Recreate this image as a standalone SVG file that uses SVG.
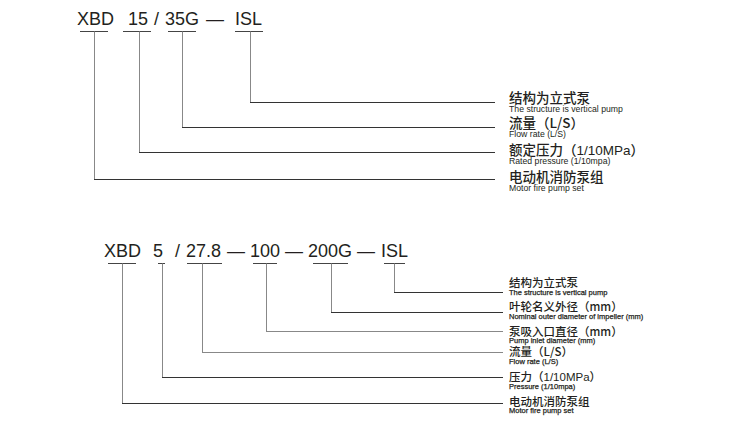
<svg xmlns="http://www.w3.org/2000/svg" width="749" height="425" viewBox="0 0 749 425">
<style>
.code{font-family:"Liberation Sans",Arial,sans-serif;font-size:18px;fill:#231f20}
.cn1{font-family:"Noto Sans CJK SC","Liberation Sans",sans-serif;font-size:13.5px;font-weight:500;fill:#231f20}
.en1{font-family:"Liberation Sans",Arial,sans-serif;font-size:8.7px;fill:#231f20}
.cn2{font-family:"Noto Sans CJK SC","Liberation Sans",sans-serif;font-size:11.5px;font-weight:500;fill:#231f20}
.en2{font-family:"Liberation Sans",Arial,sans-serif;font-size:7.5px;fill:#231f20;stroke:#231f20;stroke-width:0.25}
.lat{font-family:"Liberation Sans",Arial,sans-serif;font-weight:normal}
.bar{stroke:#444;stroke-width:1;fill:none}
.v{stroke:#888;stroke-width:1;fill:none}
.h{stroke:#333;stroke-width:1;fill:none}
.hg{stroke:#888;stroke-width:1.2;fill:none}
</style>
<rect width="749" height="425" fill="#fff"/>
<g id="code-top">
<text class="code" y="25"><tspan x="77">XBD</tspan><tspan x="128">15</tspan><tspan x="154">/</tspan><tspan x="165">35G</tspan><tspan x="206">—</tspan><tspan x="235">ISL</tspan></text>
</g>
<g id="connectors-top">
<path class="bar" d="M80 31.5H108M123 31.5H151M168 31.5H196M235 31.5H263"/>
<path class="v" d="M94.5 31.5V179M139.5 31.5V152M182.5 31.5V127M250.5 31.5V102"/>
<path class="h" d="M250 102.5H495M182 127.5H495M139 152.5H495M94 179.5H495"/>
</g>
<g id="label-top-1"><text class="cn1" x="509" y="103">结构为立式泵</text><text class="en1" x="509" y="112">The structure is vertical pump</text></g>
<g id="label-top-2"><text class="cn1" x="509" y="128">流量（L/S）</text><text class="en1" x="509" y="137">Flow rate (L/S)</text></g>
<g id="label-top-3"><text class="cn1" x="509" y="155">额定压力（<tspan class="lat">1/10MPa</tspan>）</text><text class="en1" x="509" y="164">Rated pressure (1/10mpa)</text></g>
<g id="label-top-4"><text class="cn1" x="509" y="182">电动机消防泵组</text><text class="en1" x="509" y="191">Motor fire pump set</text></g>

<g id="code-bottom">
<text class="code" y="257"><tspan x="104">XBD</tspan><tspan x="153">5</tspan><tspan x="175">/</tspan><tspan x="186">27.8</tspan><tspan x="227">—</tspan><tspan x="250">100</tspan><tspan x="285">—</tspan><tspan x="308">200G</tspan><tspan x="357">—</tspan><tspan x="381">ISL</tspan></text>
</g>
<g id="connectors-bottom">
<path class="bar" d="M108 263.5H136M158 263.5H165M187 263.5H222M253 263.5H277M313 263.5H348M384 263.5H405"/>
<path class="v" d="M122.5 263.5V403M162.5 263.5V377M202.5 263.5V352M266.5 263.5V331M331.5 263.5V312M394.5 263.5V292"/>
<path class="h" d="M394 292.5H503M331 312.5H503M162 377.5H503M122 403.5H503"/>
<path class="hg" d="M266 331.5H503M202 352.5H503"/>
</g>
<g id="label-bot-1"><text class="cn2" x="509" y="287">结构为立式泵</text><text class="en2" x="509" y="295">The structure is vertical pump</text></g>
<g id="label-bot-2"><text class="cn2" x="509" y="311">叶轮名义外径（mm）</text><text class="en2" x="509" y="319">Nominal outer diameter of impeller (mm)</text></g>
<g id="label-bot-3"><text class="cn2" x="509" y="336">泵吸入口直径（mm）</text><text class="en2" x="509" y="343">Pump inlet diameter (mm)</text></g>
<g id="label-bot-4"><text class="cn2" x="509" y="356">流量（L/S）</text><text class="en2" x="509" y="364">Flow rate (L/S)</text></g>
<g id="label-bot-5"><text class="cn2" x="509" y="381">压力（<tspan class="lat">1/10MPa</tspan>）</text><text class="en2" x="509" y="389">Pressure (1/10mpa)</text></g>
<g id="label-bot-6"><text class="cn2" x="509" y="406">电动机消防泵组</text><text class="en2" x="509" y="413">Motor fire pump set</text></g>
</svg>
